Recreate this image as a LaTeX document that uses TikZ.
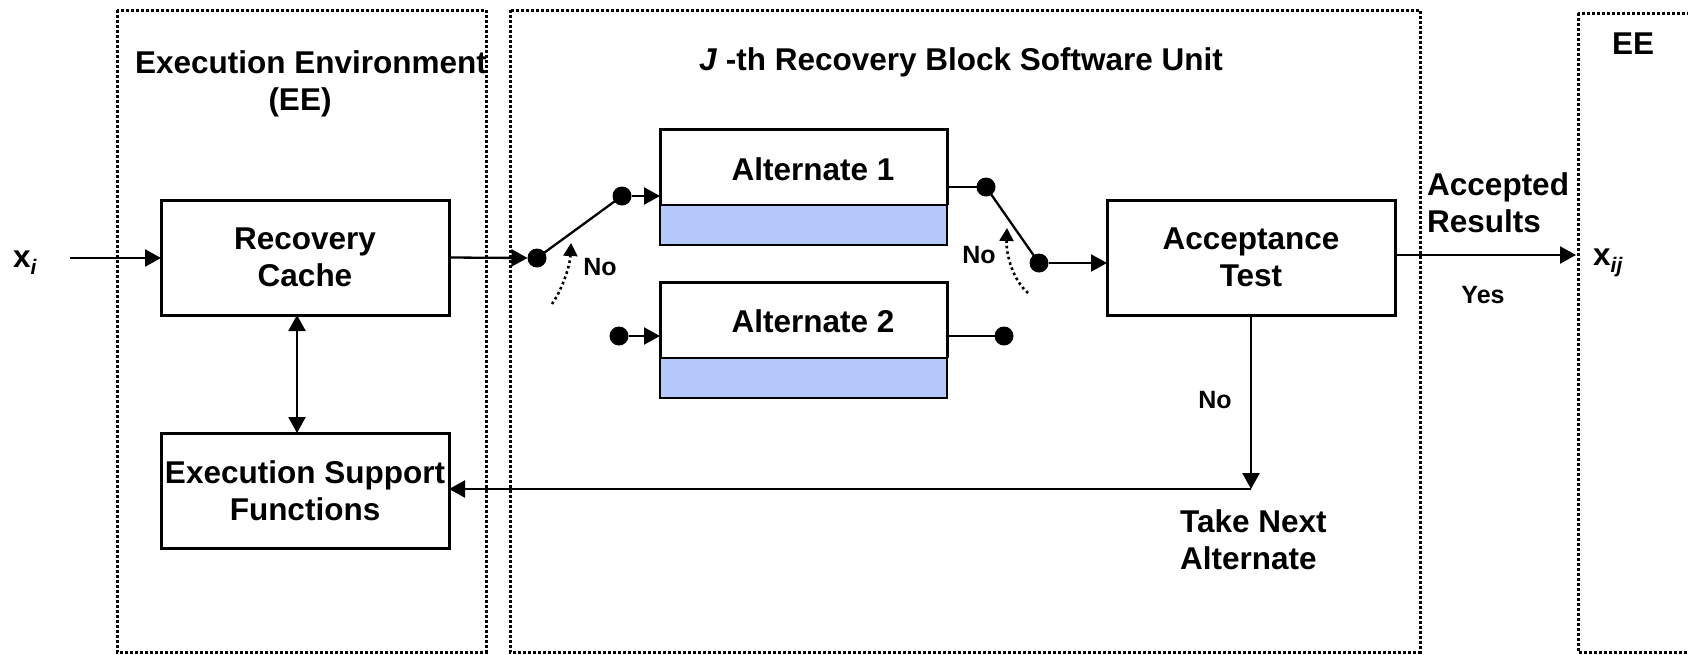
\documentclass[tikz,border=0pt]{standalone}
\usepackage{fontspec}
\setmainfont{Liberation Sans}
\usetikzlibrary{arrows.meta,calc}
\definecolor{altblue}{RGB}{180,200,250}

\tikzset{
  big/.style={font=\bfseries\fontsize{31.5}{37}\selectfont, inner sep=0pt},
  small/.style={font=\bfseries\fontsize{25}{30}\selectfont, inner sep=0pt},
  block/.style={draw, line width=3pt, minimum width=288pt, minimum height=115pt,
    align=center, inner sep=0pt, outer sep=0pt, big},
  altframe/.style={minimum width=287pt, minimum height=116pt, inner sep=0pt, outer sep=0pt},
  region/.style={line width=3pt, dash pattern=on 3pt off 2pt},
  dot/.style={circle, fill, inner sep=0pt, minimum size=19pt, outer sep=0pt},
  tip/.style={-{Triangle[length=16pt,width=17pt]}},
  conn/.style={line width=2.3pt, tip},
  wire/.style={line width=2.3pt},
  hint/.style={line width=2.6pt, dash pattern=on 2.6pt off 3pt,
    -{Triangle[length=13pt,width=14pt]}},
}

\newcommand{\subtxt}[1]{\raisebox{-7pt}{\fontsize{21}{21}\selectfont\itshape #1}}

\begin{document}
\begin{tikzpicture}[x=1pt,y=-1pt]
  \useasboundingbox (0,0) rectangle (1688,654);
  \clip (0,0) rectangle (1688,654);

  % dotted regions
  \draw[region] (117,10) rectangle (486,652);
  \draw[region] (510,10) rectangle (1420,652);
  \draw[region] (1578,13) rectangle (1720,652);

  % region titles
  \node[big] (eeTitle) at (311,62) {Execution Environment};
  \node[big] (eeAbbr) at (300,102) {(EE)};
  \node[big] (unitTitle) at (961,62) {\textit{J} -th Recovery Block Software Unit};
  \node[big] (eeNext) at (1633,44) {EE};

  % main blocks
  \node[block] (rc) at (305,257.5) {Recovery\\Cache};
  \node[block] (esf) at (305,490.5) {Execution Support\\Functions};
  \node[block] (at) at (1251,257.5) {Acceptance\\Test};

  % alternates: white upper part, blue lower band
  \node[altframe] (a1) at (803.5,187) {};
  \node[altframe] (a2) at (803.5,340) {};
  \foreach \a in {a1,a2}{
    \draw[line width=3pt] ($(\a.south west)+(0,-40)$) -- (\a.north west)
      -- (\a.north east) -- ($(\a.south east)+(0,-40)$);
    \draw[line width=1.2pt, fill=altblue] (\a.south west) rectangle ($(\a.south east)+(0,-40)$);
  }
  \node[big] (a1t) at (813,169) {Alternate 1};
  \node[big] (a2t) at (813,321) {Alternate 2};

  % switch contacts
  \node[dot] (sIn) at (537,258) {};
  \node[dot] (s1) at (622,196) {};
  \node[dot] (s2) at (619,336) {};
  \node[dot] (o1) at (986,187) {};
  \node[dot] (o2) at (1004,336) {};
  \node[dot] (sOut) at (1039,263) {};

  % input and output
  \node[big, anchor=base west] (xi) at (13,267) {x\subtxt{i}};
  \coordinate (inStart) at (70,258);
  \draw[conn] (inStart) -- (inStart -| rc.west);
  \node[big, anchor=base west] (xij) at (1593,265) {x\subtxt{ij}};
  \coordinate (outEnd) at (1576,255);
  \draw[conn] (outEnd -| at.east) -- (outEnd);

  % switch wiring
  \draw[conn] (rc.east) -- (sIn.west);
  \draw[wire] (sIn.center) -- (s1.center);
  \draw[conn] (s1.east) -- (s1.east -| a1.west);
  \draw[conn] (s2.east) -- (s2.east -| a2.west);
  \draw[wire] (o1 -| a1.east) -- (o1.center);
  \draw[wire] (o2 -| a2.east) -- (o2.center);
  \draw[wire] (o1.center) -- (sOut.center);
  \draw[conn] (sOut.east) -- (sOut.east -| at.west);

  % cache <-> support functions
  \draw[line width=2.3pt, {Triangle[length=16pt,width=17pt]}-{Triangle[length=16pt,width=17pt]}]
    ($(rc.south)+(-8,0)$) -- ($(esf.north)+(-8,0)$);

  % rejection path
  \coordinate (turn) at (1251,489);
  \draw[conn] (at.south -| turn) -- (turn);
  \draw[conn] (turn) -- (turn -| esf.east);

  % switch motion hints
  \coordinate (hL0) at (552,304);
  \coordinate (hL1) at (571,243);
  \draw[hint] (hL0) .. controls (563,288) and (570,265) .. (hL1);
  \coordinate (hR0) at (1028,293);
  \coordinate (hR1) at (1007,228);
  \draw[hint] (hR0) .. controls (1013,280) and (1006,255) .. (hR1);

  % labels
  \node[small] (noL) at (600,267) {No};
  \node[small] (noR) at (979,255) {No};
  \node[small] (yes) at (1483,295) {Yes};
  \node[small] (noAT) at (1215,400) {No};
  \node[big, align=left, anchor=west] (acc) at (1427,203) {Accepted\\Results};
  \node[big, align=left, anchor=west] (tna) at (1180,540) {Take Next\\Alternate};
\end{tikzpicture}
\end{document}
